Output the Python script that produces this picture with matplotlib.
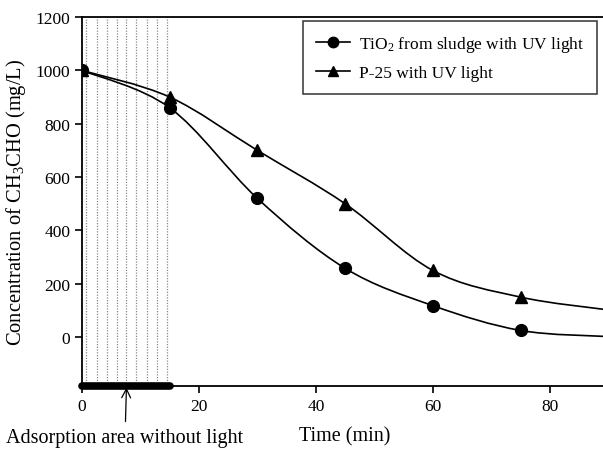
import matplotlib.pyplot as plt
import numpy as np
from matplotlib.path import Path
from matplotlib.patches import PathPatch

plt.rcParams['font.family'] = ['Liberation Serif', 'DejaVu Serif']
plt.rcParams['mathtext.fontset'] = 'custom'
plt.rcParams['mathtext.rm'] = 'Liberation Serif'
plt.rcParams['mathtext.it'] = 'Liberation Serif:italic'

# sampling times (min) and measured concentrations (mg/L)
time = [0, 15, 30, 45, 60, 75]
tio2_sludge = [1000, 860, 520, 258, 118, 25]
p25 = [1000, 900, 700, 500, 250, 150]
# where the fitted curves leave the frame at 90 min
tio2_end = 2
p25_end = 102

# dark-adsorption period, marked with dotted lines
dark_lines = [0.7, 2.5, 4.2, 5.9, 7.5, 9.2, 11.1, 12.9, 14.5]
dark_end = 15

xticks = [0, 20, 40, 60, 80]
yticks = [0, 200, 400, 600, 800, 1000, 1200]


def smooth_path(xs, ys):
    # Catmull-Rom segments written as cubic Bezier pieces
    pts = list(zip(xs, ys))
    verts = [pts[0]]
    codes = [Path.MOVETO]
    for i in range(len(pts) - 1):
        p0 = pts[i - 1] if i > 0 else pts[i]
        p1, p2 = pts[i], pts[i + 1]
        p3 = pts[i + 2] if i + 2 < len(pts) else pts[i + 1]
        c1 = (p1[0] + (p2[0] - p0[0]) / 6, p1[1] + (p2[1] - p0[1]) / 6)
        c2 = (p2[0] - (p3[0] - p1[0]) / 6, p2[1] - (p3[1] - p1[1]) / 6)
        verts += [c1, c2, p2]
        codes += [Path.CURVE4] * 3
    return Path(verts, codes)


fig = plt.figure(figsize=(6.03, 4.52), dpi=100)
ax = fig.add_axes([0.136, 0.144, 0.864, 0.816])
ymin = -183
ax.set_xlim(0, 89.1)
ax.set_ylim(ymin, 1200)

for x in dark_lines:
    ax.axvline(x, color='#888888', lw=0.9, ls=(0, (1, 1.2)), zorder=1)

for xs, ys, end in [(time, tio2_sludge, tio2_end), (time, p25, p25_end)]:
    patch = PathPatch(smooth_path(xs + [90], ys + [end]), fill=False,
                      edgecolor='black', lw=1.2, zorder=2)
    ax.add_patch(patch)

ax.plot(time, tio2_sludge, 'o', color='black', ms=8.5, zorder=3)
ax.plot(time, p25, '^', color='black', ms=8, zorder=3)

# legend handles with line + marker
h1, = ax.plot([], [], '-o', color='black', lw=1.2, ms=7.5)
h2, = ax.plot([], [], '-^', color='black', lw=1.2, ms=7)
leg = ax.legend([h1, h2], ['TiO$_2$ from sludge with UV light', 'P-25 with UV light'],
                loc='upper right', bbox_to_anchor=(0.989, 0.989), borderaxespad=0,
                fontsize=12.5, frameon=True, fancybox=False, edgecolor='black',
                handlelength=2.0, borderpad=0.75, labelspacing=0.6, handletextpad=0.5)
leg.get_frame().set_linewidth(1.1)

# thick bar over the dark period on the time axis
ax.plot([0, dark_end], [ymin, ymin], color='black', lw=5.5, solid_capstyle='round',
        clip_on=False, zorder=5)

ax.spines['right'].set_visible(False)
for s in ['left', 'bottom', 'top']:
    ax.spines[s].set_linewidth(1.3)
ax.set_xticks(xticks)
ax.set_yticks(yticks)
ax.tick_params(direction='out', length=5, width=1.2, labelsize=12.5)

ax.set_ylabel('Concentration of CH$_3$CHO (mg/L)', fontsize=14.8)
ax.yaxis.set_label_coords(-0.104, 0.5)
fig.text(299 / 603, 1 - 437 / 452, 'Time (min)', fontsize=14.5, ha='left', va='center')

ax.annotate('Adsorption area without light', xy=(7.6, ymin - 6), xycoords='data',
            xytext=(125 / 603, 1 - 439 / 452), textcoords='figure fraction',
            ha='center', va='center', fontsize=14.5, annotation_clip=False,
            arrowprops=dict(arrowstyle='->', color='black', lw=0.9,
                            shrinkA=3, shrinkB=0, mutation_scale=16))

fig.savefig('out.png', dpi=100)
